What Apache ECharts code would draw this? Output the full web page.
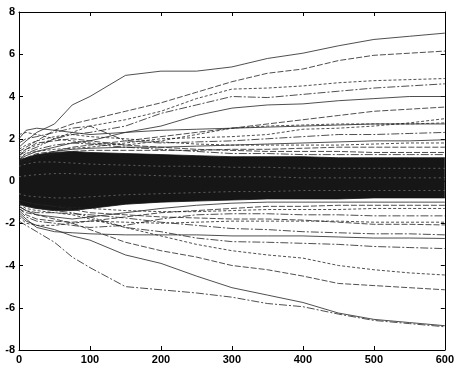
<!DOCTYPE html>
<html>
<head>
<meta charset="utf-8">
<script src="https://cdn.jsdelivr.net/npm/echarts@6/dist/echarts.min.js"></script>
<style>
    html, body { margin: 0; padding: 0; background: #fff; }
    #chart { width: 457px; height: 367px; }
</style>
</head>
<body>
<div id="chart"></div>
<script>
    // sample positions along the horizontal axis
    var xs = [0, 10, 25, 50, 75, 100, 150, 200, 250, 300, 350, 400, 450, 500, 550, 600];

    // paths that drift upward out of the band
    var upperLines = [
        [1.6, 1.9, 2.3, 2.7, 3.6, 4.0, 5.0, 5.2, 5.2, 5.4, 5.8, 6.05, 6.4, 6.7, 6.85, 7.0],
        [1.4, 1.6, 1.9, 2.4, 2.7, 2.9, 3.3, 3.7, 4.2, 4.7, 5.1, 5.3, 5.7, 5.95, 6.05, 6.15],
        [1.3, 1.5, 1.7, 2.0, 2.3, 2.6, 2.9, 3.3, 3.9, 4.35, 4.4, 4.5, 4.65, 4.75, 4.8, 4.85],
        [1.2, 1.4, 1.6, 2.0, 2.2, 2.3, 2.6, 3.2, 3.6, 4.0, 3.95, 4.1, 4.25, 4.4, 4.5, 4.6],
        [1.0, 1.2, 1.4, 1.6, 1.8, 1.9, 2.3, 2.6, 3.1, 3.45, 3.6, 3.65, 3.8, 3.9, 4.0, 4.0],
        [0.9, 1.1, 1.3, 1.4, 1.6, 1.7, 1.9, 2.1, 2.3, 2.5, 2.7, 2.9, 3.1, 3.3, 3.4, 3.5],
        [1.1, 1.3, 1.4, 1.5, 1.55, 1.6, 1.8, 2.0, 2.05, 2.1, 2.2, 2.45, 2.5, 2.6, 2.75, 2.95],
        [1.8, 2.0, 2.1, 2.3, 2.5, 2.6, 1.9, 1.8, 1.85, 1.9, 2.0, 2.1, 2.2, 2.2, 2.25, 2.3],
        [0.8, 1.0, 1.2, 1.4, 1.5, 1.55, 1.6, 1.6, 1.65, 1.7, 1.75, 1.8, 1.85, 1.9, 1.9, 1.95],
        [0.7, 0.9, 1.1, 1.3, 1.4, 1.45, 1.45, 1.45, 1.45, 1.5, 1.5, 1.55, 1.6, 1.6, 1.6, 1.6],
        [2.2, 2.3, 2.2, 2.0, 1.9, 1.8, 1.7, 1.9, 2.2, 2.5, 2.6, 2.65, 2.7, 2.7, 2.7, 2.75]
    ];

    // paths hugging the top edge of the band, crowded on the left
    var upperFringe = [
        [1.2, 1.5, 1.8, 1.9, 2.0, 1.9, 1.7, 1.6, 1.5, 1.45, 1.4, 1.4, 1.4, 1.35, 1.35, 1.35],
        [1.5, 1.7, 1.9, 2.1, 2.2, 2.1, 2.0, 1.85, 1.75, 1.7, 1.7, 1.7, 1.7, 1.75, 1.8, 1.8],
        [1.0, 1.3, 1.5, 1.7, 1.8, 1.75, 1.6, 1.5, 1.4, 1.3, 1.3, 1.25, 1.25, 1.25, 1.25, 1.25],
        [2.0, 2.4, 2.5, 2.4, 2.3, 2.2, 2.3, 2.4, 2.45, 2.5, 2.55, 2.6, 2.65, 2.7, 2.7, 2.7]
    ];

    // paths that drift downward out of the band
    var lowerLines = [
        [-1.9, -2.1, -2.4, -2.9, -3.6, -4.1, -5.0, -5.15, -5.3, -5.5, -5.8, -5.95, -6.3, -6.6, -6.75, -6.9],
        [-1.6, -1.9, -2.1, -2.3, -2.6, -2.8, -3.5, -3.9, -4.5, -5.05, -5.4, -5.75, -6.25, -6.55, -6.7, -6.85],
        [-1.3, -1.5, -1.6, -1.8, -2.0, -2.3, -2.9, -3.3, -3.6, -4.0, -4.2, -4.5, -4.85, -4.95, -5.05, -5.15],
        [-1.1, -1.3, -1.4, -1.5, -1.6, -1.8, -2.2, -2.6, -3.0, -3.3, -3.5, -3.65, -4.0, -4.2, -4.35, -4.45],
        [-1.0, -1.2, -1.3, -1.4, -1.5, -1.7, -2.2, -2.4, -2.7, -2.87, -2.9, -2.95, -3.0, -3.1, -3.15, -3.2],
        [-1.5, -1.8, -2.2, -2.4, -2.45, -2.5, -2.55, -2.55, -2.55, -2.6, -2.6, -2.6, -2.65, -2.7, -2.7, -2.72],
        [-0.9, -1.0, -1.1, -1.2, -1.35, -1.5, -1.6, -1.7, -1.75, -1.8, -1.8, -1.85, -1.95, -2.05, -2.05, -2.08],
        [-0.9, -1.0, -1.1, -1.2, -1.25, -1.3, -1.4, -1.45, -1.45, -1.4, -1.35, -1.35, -1.35, -1.3, -1.3, -1.3],
        [-1.2, -1.4, -1.5, -1.5, -1.55, -1.6, -1.75, -1.95, -2.1, -2.25, -2.3, -2.4, -2.45, -2.5, -2.5, -2.55]
    ];

    // paths hugging the bottom edge of the band
    var lowerFringe = [
        [-1.3, -1.6, -1.8, -1.9, -1.95, -1.9, -1.7, -1.5, -1.4, -1.3, -1.2, -1.2, -1.15, -1.15, -1.15, -1.15],
        [-1.7, -2.0, -2.1, -2.1, -2.0, -1.9, -1.95, -2.0, -1.95, -1.9, -1.9, -1.9, -1.9, -1.95, -1.95, -1.95],
        [-1.4, -1.7, -1.9, -2.0, -2.1, -2.2, -2.1, -1.8, -1.6, -1.55, -1.55, -1.6, -1.6, -1.65, -1.65, -1.65],
        [-1.2, -1.4, -1.6, -1.7, -1.8, -1.7, -1.5, -1.3, -1.15, -1.05, -1.0, -1.0, -1.0, -1.0, -1.0, -1.0]
    ];

    // edges of the dense black core of paths
    var bandTop = [1.0, 1.1, 1.25, 1.35, 1.4, 1.35, 1.3, 1.25, 1.2, 1.15, 1.15, 1.15, 1.1, 1.1, 1.1, 1.1];
    var bandBottom = [-1.1, -1.2, -1.3, -1.4, -1.4, -1.3, -1.1, -1.0, -0.95, -0.9, -0.85, -0.85, -0.85, -0.8, -0.8, -0.8];

    // light streaks visible inside the core
    var streaks = [
        [0.7, 0.8, 0.9, 0.9, 0.85, 0.8, 0.75, 0.7, 0.7, 0.65, 0.65, 0.6, 0.6, 0.6, 0.6, 0.6],
        [0.2, 0.25, 0.3, 0.35, 0.35, 0.3, 0.3, 0.25, 0.2, 0.2, 0.2, 0.15, 0.15, 0.15, 0.15, 0.15],
        [-0.6, -0.7, -0.75, -0.8, -0.8, -0.75, -0.65, -0.6, -0.55, -0.5, -0.5, -0.45, -0.45, -0.45, -0.45, -0.45]
    ];

    var dashes = ['solid', [6, 2], [3, 2], [8, 2, 2, 2]];

    function pairs(vals) {
        return xs.map(function (x, i) { return [x, vals[i]]; });
    }

    var series = [];
    // core band: two areas filled toward y = 0
    [bandTop, bandBottom].forEach(function (edge) {
        series.push({
            type: 'line', data: pairs(edge), symbol: 'none', silent: true,
            lineStyle: { width: 0.8, color: '#111' },
            areaStyle: { color: '#161616', opacity: 1, origin: 'auto' }
        });
    });
    streaks.forEach(function (s) {
        series.push({
            type: 'line', data: pairs(s), symbol: 'none', silent: true,
            lineStyle: { width: 0.7, color: 'rgba(255,255,255,0.45)', type: [2, 3] }
        });
    });
    upperFringe.concat(lowerFringe).forEach(function (l, i) {
        series.push({
            type: 'line', data: pairs(l), symbol: 'none', silent: true,
            lineStyle: { width: 0.8, color: '#222', type: dashes[(i + 1) % dashes.length] }
        });
    });
    upperLines.concat(lowerLines).forEach(function (l, i) {
        series.push({
            type: 'line', data: pairs(l), symbol: 'none', silent: true,
            lineStyle: { width: 0.8, color: '#222', type: dashes[i % dashes.length] }
        });
    });

    var axisFont = { color: '#000', fontSize: 11, fontWeight: 'bold', fontFamily: 'Liberation Sans' };
    var frameLine = { onZero: false, lineStyle: { color: '#000', width: 1 } };
    var inTick = { show: true, inside: true, length: 4, lineStyle: { color: '#000' } };
    var option = {
        animation: false,
        backgroundColor: '#fff',
        grid: { left: 19, right: 9, top: 12, bottom: 17 },
        xAxis: [{
            type: 'value', min: 0, max: 600, interval: 100,
            axisLine: frameLine, axisTick: inTick,
            axisLabel: Object.assign({ margin: 4 }, axisFont),
            splitLine: { show: false }
        }, {
            type: 'value', min: 0, max: 600, interval: 100, position: 'top',
            axisLine: frameLine, axisTick: inTick,
            axisLabel: { show: false },
            splitLine: { show: false }
        }],
        yAxis: [{
            type: 'value', min: -8, max: 8, interval: 2,
            axisLine: Object.assign({ show: true }, frameLine), axisTick: inTick,
            axisLabel: Object.assign({ margin: 4 }, axisFont),
            splitLine: { show: false }
        }, {
            type: 'value', min: -8, max: 8, interval: 2, position: 'right',
            axisLine: Object.assign({ show: true }, frameLine), axisTick: inTick,
            axisLabel: { show: false },
            splitLine: { show: false }
        }],
        series: series
    };

    var chart = echarts.init(document.getElementById('chart'));
    chart.setOption(option);
</script>
</body>
</html>
